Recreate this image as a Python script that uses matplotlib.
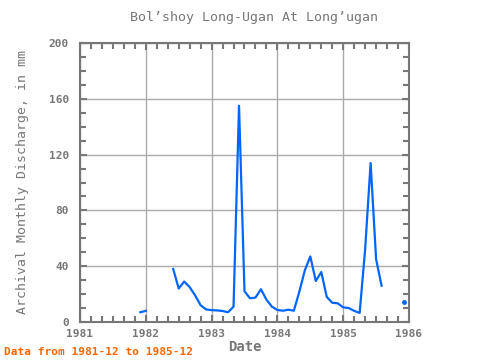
import numpy as np
import matplotlib
import matplotlib.pyplot as plt
from matplotlib.ticker import MultipleLocator

matplotlib.use('Agg')

# Dados mensais (1981-12 a 1985-12), NaN = sem dados
start_year = 1981
start_month = 12
discharge = [
    7, 8, np.nan, np.nan, np.nan, np.nan, 38, 24, 29, 25, 19, 12, 9,      # 1981-12 .. 1982-12
    8.5, 8.3, 7.9, 7, 11, 155, 22, 17, 17.5, 23.5, 16, 11,                # 1983
    8.6, 8.1, 8.8, 8.1, 21.7, 37, 47, 29.4, 35.8, 18, 13.8, 13.4,         # 1984
    10.5, 10, 8, 6.5, 52, 114, 45, 26, np.nan, np.nan, np.nan, 14.6,      # 1985
]
title = "Bol\u2019shoy Long-Ugan At Long\u2019ugan"
x_ticks = [1981, 1982, 1983, 1984, 1985, 1986]
y_ticks = [0, 40, 80, 120, 160, 200]

gray = '#777777'
font = 'DejaVu Sans Mono'

y = np.array(discharge, dtype=float)
x = start_year + (start_month - 1) / 12 + np.arange(len(y)) / 12

# pontos isolados (sem vizinhos) recebem marcador
isolated = []
for i in range(len(y)):
    if np.isnan(y[i]):
        continue
    prev_nan = i == 0 or np.isnan(y[i - 1])
    next_nan = i == len(y) - 1 or np.isnan(y[i + 1])
    if prev_nan and next_nan:
        isolated.append(i)

fig = plt.figure(figsize=(4.8, 3.6), dpi=100)
ax = fig.add_axes([80 / 480, 1 - 322 / 360, 329 / 480, 279 / 360])

ax.plot(x, y, color='#0066ff', lw=1.6)
ax.plot(x[isolated], y[isolated], 'o', color='#0066ff', ms=2.5)

ax.set_xlim(1981, 1986)
ax.set_ylim(0, 200)
ax.set_xticks(x_ticks)
ax.set_yticks(y_ticks)
ax.xaxis.set_minor_locator(MultipleLocator(1 / 6))
ax.yaxis.set_minor_locator(MultipleLocator(10))
ax.grid(True, which='major', color='#aaaaaa', lw=1)
ax.set_axisbelow(True)

ax.tick_params(which='both', direction='in', top=True, right=True,
               color=gray, labelcolor=gray, labelsize=8, width=1.5)
ax.tick_params(which='major', length=5)
ax.tick_params(which='minor', length=4)
ax.tick_params(axis='y', pad=8)
ax.tick_params(axis='x', pad=5)
for lbl in ax.get_xticklabels() + ax.get_yticklabels():
    lbl.set_fontfamily(font)
    lbl.set_fontweight('bold')
for s in ax.spines.values():
    s.set_color(gray)
    s.set_linewidth(1.5)

fig.text(254 / 480, 1 - 17 / 360, title, family=font, color=gray, fontsize=9.5,
         ha='center', va='center')
ax.set_xlabel('Date', family=font, color=gray, fontsize=10, fontweight='bold', labelpad=1)
ax.set_ylabel('Archival Monthly Discharge, in mm', family=font, color=gray, fontsize=9.5, labelpad=14)

fig.text(4 / 480, 1 - 352 / 360, 'Data from 1981-12 to 1985-12', family=font,
         color='#ff6600', fontsize=8, fontweight='bold', va='center')

fig.savefig('out.png', dpi=100)
plt.close()
